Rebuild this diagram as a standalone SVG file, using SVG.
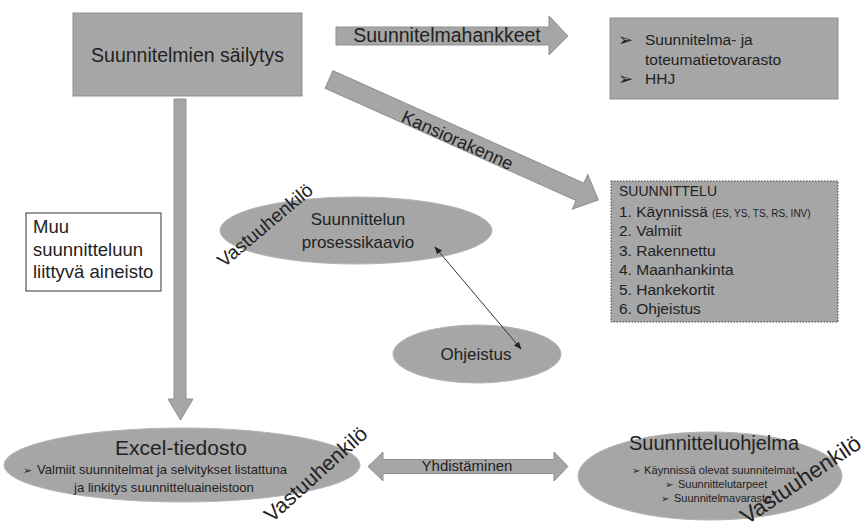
<svg xmlns="http://www.w3.org/2000/svg" width="866" height="528" viewBox="0 0 866 528">
  <defs>
    <style>
      text { font-family: "Liberation Sans", Arial, sans-serif; fill: #222; }
      .shape { fill: #a6a6a6; stroke: #8f8f8f; stroke-width: 1; }
      .blob { fill: #a6a6a6; stroke: #b4b4b4; stroke-width: 1; }
      .bul { font-family: "DejaVu Sans", sans-serif; }
      .mid { text-anchor: middle; }
      .link { stroke: #333; stroke-width: 1; fill: none; }
    </style>
    <marker id="tip" viewBox="0 0 10 10" refX="9" refY="5" markerWidth="8" markerHeight="8" orient="auto-start-reverse" markerUnits="userSpaceOnUse">
      <path d="M0,1 L10,5 L0,9 Z" fill="#222"/>
    </marker>
  </defs>

  <rect width="866" height="528" fill="#ffffff"/>

  <g id="sailytys">
    <rect class="shape" x="73" y="13" width="229" height="83"/>
    <text x="187.5" y="62" class="mid" font-size="19.5">Suunnitelmien säilytys</text>
  </g>

  <g id="varasto">
    <rect class="shape" x="610" y="18" width="228" height="81"/>
    <text x="618" y="46" class="bul" font-size="18">➢</text>
    <text x="645" y="45" font-size="15.5">Suunnitelma- ja</text>
    <text x="645" y="64.5" font-size="15.5">toteumatietovarasto</text>
    <text x="618" y="85" class="bul" font-size="18">➢</text>
    <text x="645" y="84" font-size="15.5">HHJ</text>
  </g>

  <g id="suunnittelu">
    <rect x="611" y="181" width="227" height="141" fill="#a6a6a6" stroke="#444" stroke-width="1" stroke-dasharray="1.5 1.5"/>
    <text x="619" y="196" font-size="14">SUUNNITTELU</text>
    <text x="619" y="217" font-size="15.5">1. Käynnissä <tspan font-size="10">(ES, YS, TS, RS, INV)</tspan></text>
    <text x="619" y="236" font-size="15.5">2. Valmiit</text>
    <text x="619" y="255.5" font-size="15.5">3. Rakennettu</text>
    <text x="619" y="275" font-size="15.5">4. Maanhankinta</text>
    <text x="619" y="294.5" font-size="15.5">5. Hankekortit</text>
    <text x="619" y="314" font-size="15.5">6. Ohjeistus</text>
  </g>

  <g id="muu-aineisto">
    <rect x="26" y="213" width="135" height="78" fill="#ffffff" stroke="#333" stroke-width="1"/>
    <text x="33" y="233" font-size="18.5">Muu</text>
    <text x="33" y="255.5" font-size="18.5">suunnitteluun</text>
    <text x="33" y="278" font-size="18.5">liittyvä aineisto</text>
  </g>

  <g id="prosessikaavio">
    <ellipse class="blob" cx="356" cy="230.5" rx="136" ry="33.5"/>
    <text x="358" y="225" class="mid" font-size="17">Suunnittelun</text>
    <text x="358" y="248" class="mid" font-size="17">prosessikaavio</text>
    <text transform="translate(224,268) rotate(-40)" font-size="19">Vastuuhenkilö</text>
  </g>

  <g id="ohjeistus">
    <ellipse class="blob" cx="477" cy="354" rx="84" ry="29"/>
    <text x="476" y="360" class="mid" font-size="17">Ohjeistus</text>
  </g>

  <g id="excel">
    <ellipse class="blob" cx="182" cy="465" rx="178" ry="37"/>
    <text x="181" y="455" class="mid" font-size="21">Excel-tiedosto</text>
    <text x="23" y="474" class="bul" font-size="11">➢</text>
    <text x="37" y="474" font-size="13.1">Valmiit suunnitelmat ja selvitykset listattuna</text>
    <text x="164" y="492" class="mid" font-size="13.1">ja linkitys suunnitteluaineistoon</text>
    <text transform="translate(272,523) rotate(-42)" font-size="21">Vastuuhenkilö</text>
  </g>

  <g id="suunnitteluohjelma">
    <ellipse class="blob" cx="710" cy="476" rx="132" ry="44"/>
    <text x="714" y="450" class="mid" font-size="20">Suunnitteluohjelma</text>
    <text x="632" y="474" class="bul" font-size="10">➢</text>
    <text x="644" y="474" font-size="11.2">Käynnissä olevat suunnitelmat</text>
    <text x="665" y="488" class="bul" font-size="10">➢</text>
    <text x="678" y="488" font-size="11">Suunnittelutarpeet</text>
    <text x="661" y="502" class="bul" font-size="10">➢</text>
    <text x="674" y="502" font-size="11">Suunnitelmavarasto</text>
    <text transform="translate(747,525) rotate(-34)" font-size="22.5">Vastuuhenkilö</text>
  </g>

  <!-- block arrows and the thin two-way link, drawn over the nodes -->
  <g id="connectors">
    <g id="arrow-hankkeet">
      <polygon class="shape" points="336,27 549,27 549,16 568,36 549,55 549,45 336,45"/>
      <text x="447" y="42" class="mid" font-size="19.5">Suunnitelmahankkeet</text>
    </g>
    <g id="arrow-kansio" transform="translate(329,79.5) rotate(24.1)">
      <polygon class="shape" points="0,-9.5 275,-9.5 275,-19 295,0 275,19 275,9.5 0,9.5"/>
      <text x="142" y="9" class="mid" font-size="18">Kansiorakenne</text>
    </g>
    <g id="arrow-down">
      <polygon class="shape" points="174,99 186,99 186,399 193,399 180.5,420 168,399 174,399"/>
    </g>
    <g id="arrow-yhdistaminen">
      <polygon class="shape" points="368,466.5 383,452 383,459.5 554,459.5 554,452 568,466.5 554,481 554,473.5 383,473.5 383,481"/>
      <text x="467" y="471" class="mid" font-size="15">Yhdistäminen</text>
    </g>
    <line id="link-ohjeistus" class="link" x1="521" y1="349" x2="435" y2="247" marker-start="url(#tip)" marker-end="url(#tip)"/>
  </g>
</svg>
